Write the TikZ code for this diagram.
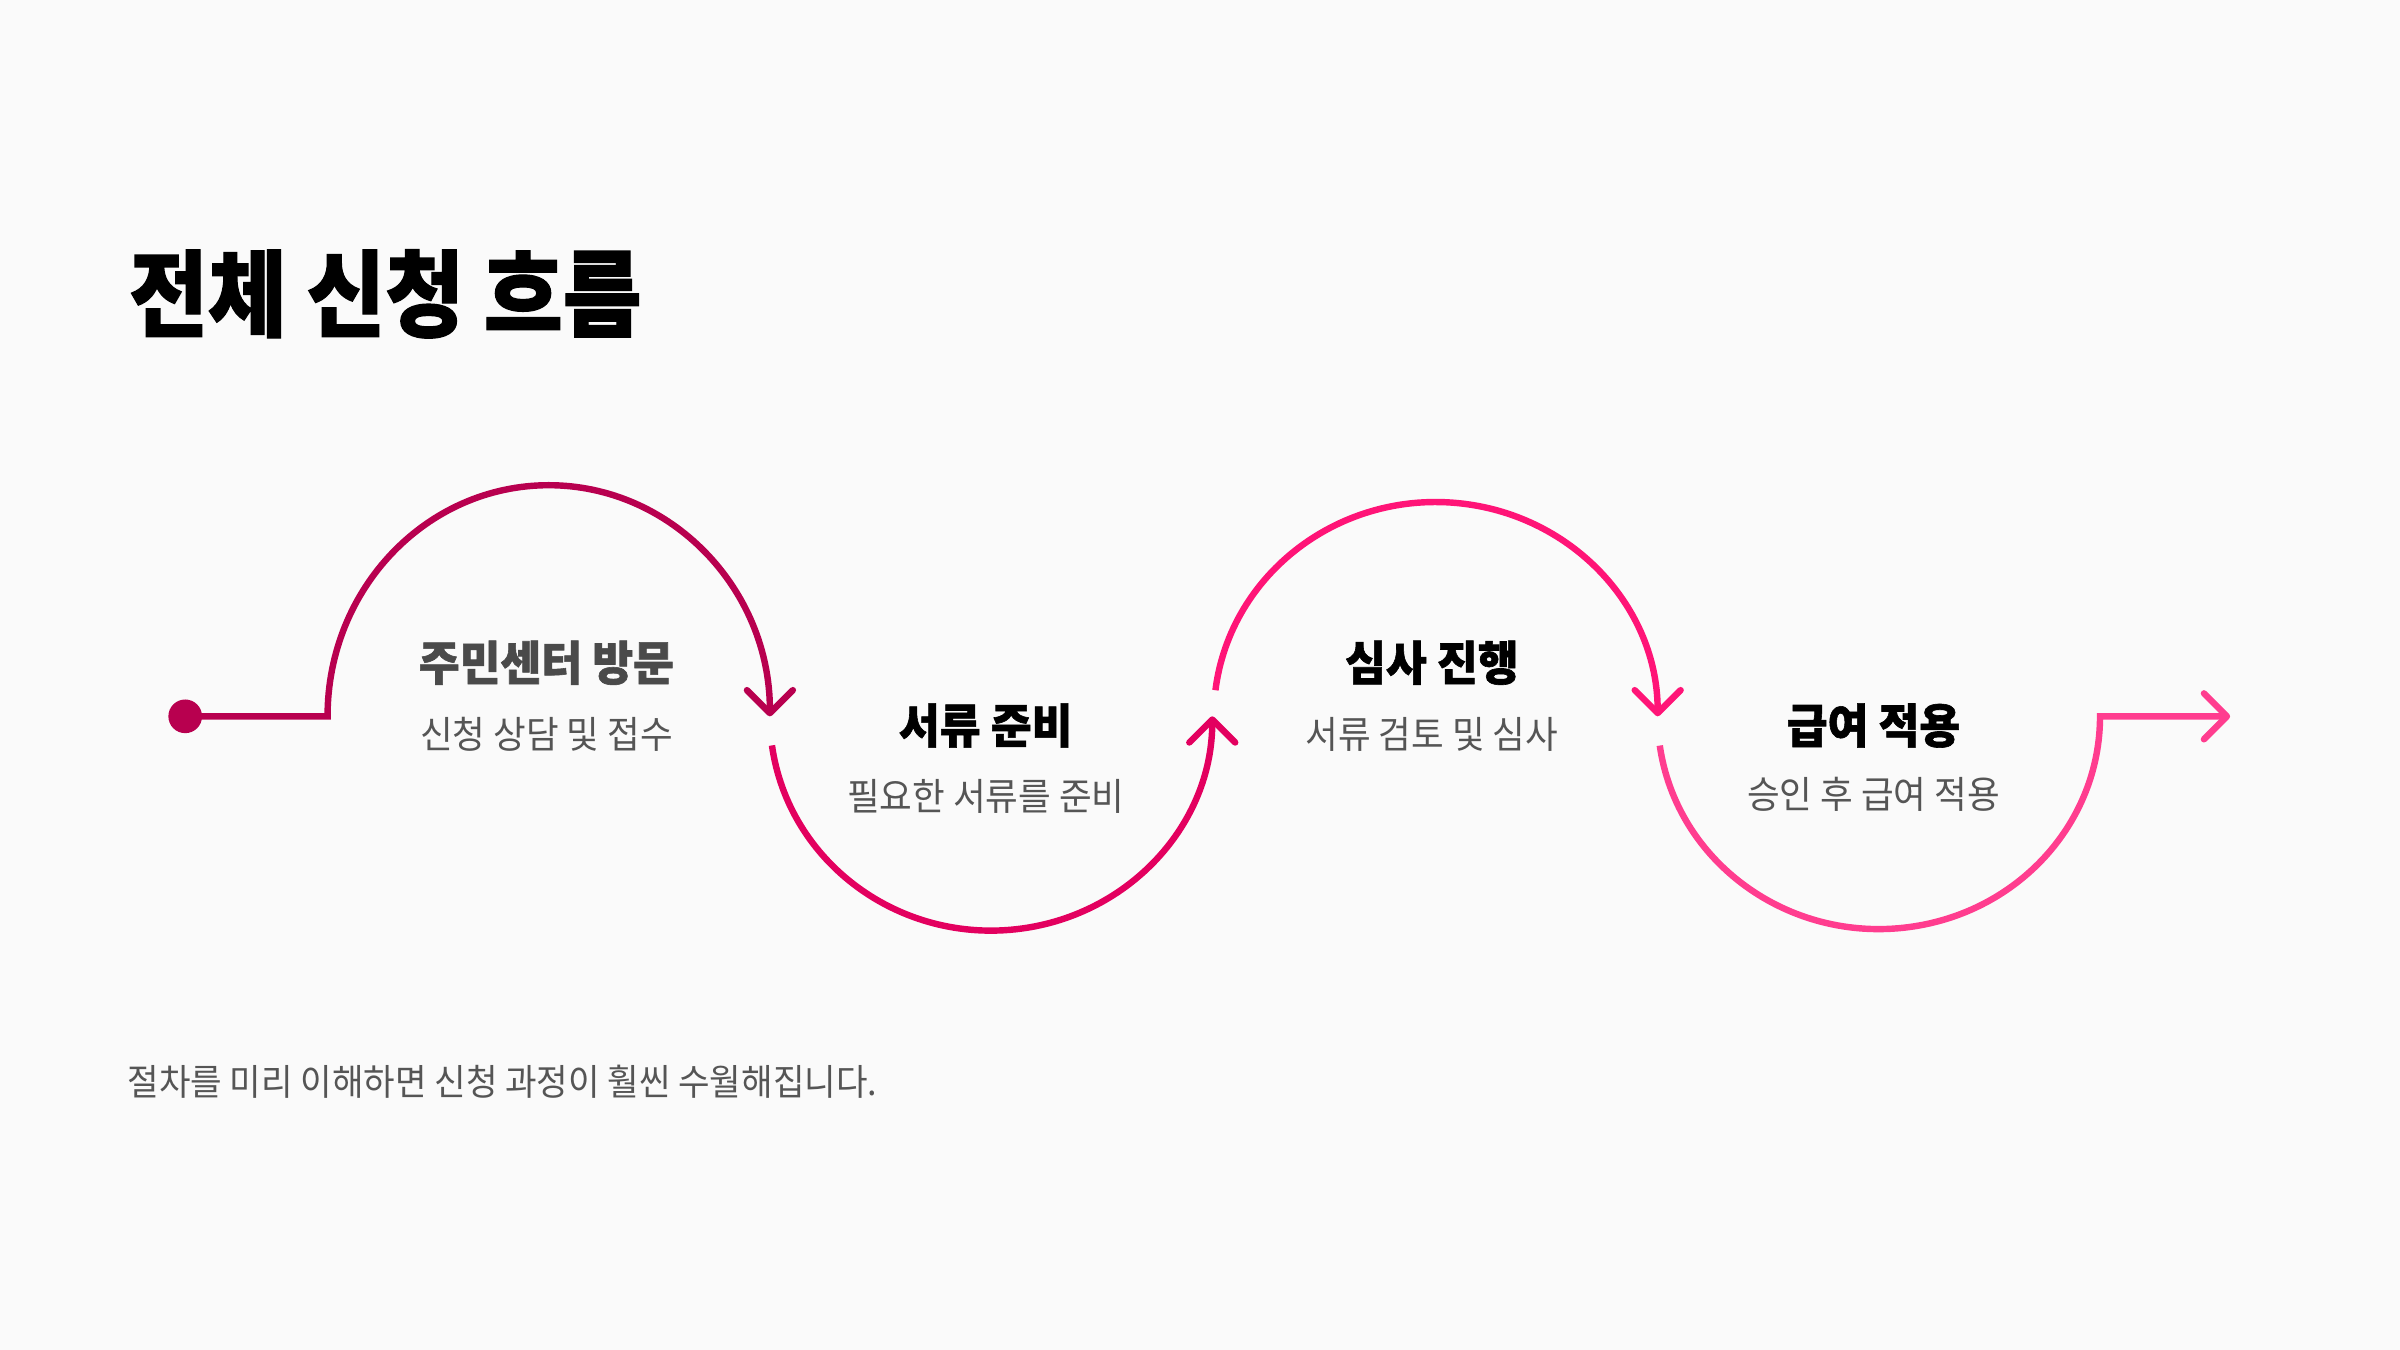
\documentclass[tikz,border=0pt]{standalone}
\usepackage{fontspec}
\usepackage{graphicx}
\usetikzlibrary{arrows.meta}
\newfontfamily\kr{Noto Sans CJK KR}
\newfontfamily\krheavy{Noto Sans CJK KR}[BoldFeatures={FakeBold=1.3}]
\definecolor{bgc}{HTML}{FAFAFA}
\definecolor{segA}{HTML}{B8004F}
\definecolor{segB}{HTML}{E3005F}
\definecolor{segC}{HTML}{FF1477}
\definecolor{segD}{HTML}{FF3D8F}
\definecolor{grayT}{HTML}{4A4A4A}
\definecolor{graySub}{HTML}{555555}
\newcommand\tallA[1]{\scalebox{1}[1.06]{#1}}
\begin{document}
\begin{tikzpicture}[x=0.5pt,y=0.5pt,
  flow/.style={line width=2.1pt},
  tipped/.style={-{Straight Barb[length=7.5pt,width=15pt,round]}},
  maintitle/.style={font=\krheavy\bfseries\fontsize{28}{32}\selectfont, inner sep=0pt, text=black},
  ttl/.style={font=\krheavy\bfseries\fontsize{14.5}{17}\selectfont, inner sep=0pt, text=black},
  sub/.style={font=\kr\fontsize{11.6}{14}\selectfont, inner sep=0pt, text=graySub},
  foot/.style={font=\kr\fontsize{11.2}{14}\selectfont, inner sep=0pt, text=graySub}]
\fill[bgc] (0,0) rectangle (1568,-882);
\useasboundingbox (0,0) rectangle (1568,-882);

\node[maintitle, anchor=west] (title) at (84,-192) {\scalebox{1}[1.1]{전체 신청 흐름}};

\coordinate (c1) at (214,-468);
\coordinate (j1) at (503,-468);
\coordinate (m2) at (647.5,-468);
\coordinate (j2) at (792,-468);
\coordinate (m3) at (938,-468);
\coordinate (j3) at (1083,-468);
\coordinate (m4) at (1227.5,-468);
\coordinate (j4) at (1372,-468);
\coordinate (pend) at (1457,-468);

\node[circle, fill=segA, minimum size=11pt, inner sep=0pt] (dot) at (121,-468) {};

\draw[flow, segA, tipped] (dot.center) -- (c1)
  arc[start angle=180, end angle=0, x radius=144.5, y radius=151];
\draw[flow, segB, tipped] (m2) ++(187.8:144.5 and 140)
  arc[start angle=187.8, end angle=360, x radius=144.5, y radius=140];
\draw[flow, segC, tipped] (m3) ++(173:145 and 140)
  arc[start angle=173, end angle=0, x radius=145, y radius=140];
\draw[flow, segD, tipped] (m4) ++(187.9:144.5 and 139)
  arc[start angle=187.9, end angle=360, x radius=144.5, y radius=139] -- (pend);

\node[ttl, text=grayT] (t1) at (357,-433) {\tallA{주민센터 방문}};
\node[sub] (s1) at (357,-480) {\tallA{신청 상담 및 접수}};
\node[ttl] (t2) at (644,-474) {\tallA{서류 준비}};
\node[sub] (s2) at (644,-520) {\tallA{필요한 서류를 준비}};
\node[ttl] (t3) at (935.5,-433) {\tallA{심사 진행}};
\node[sub] (s3) at (935.5,-480) {\tallA{서류 검토 및 심사}};
\node[ttl] (t4) at (1224,-474) {\tallA{급여 적용}};
\node[sub] (s4) at (1224,-519) {\tallA{승인 후 급여 적용}};

\node[foot, anchor=west] (note) at (83,-707) {\tallA{절차를 미리 이해하면 신청 과정이 훨씬 수월해집니다.}};
\end{tikzpicture}
\end{document}
